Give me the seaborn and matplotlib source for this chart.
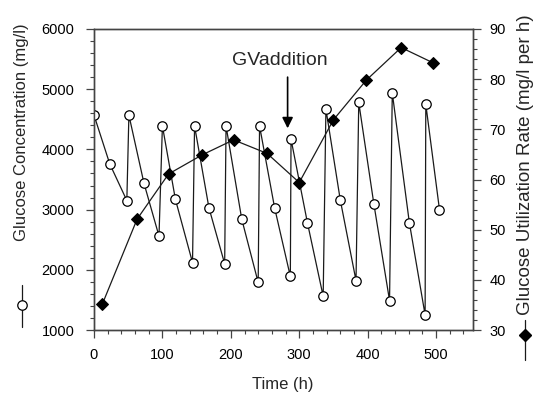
import matplotlib
matplotlib.use("Agg")
import matplotlib.pyplot as plt
from matplotlib.lines import Line2D
from matplotlib.ticker import MultipleLocator
import seaborn as sns
import pandas as pd

# --- data ---
conc_time = [0, 23, 48, 51, 73, 95, 100, 119, 144, 147, 168, 191, 193, 216, 240, 242,
             264, 287, 288, 312, 335, 339, 360, 383, 387, 409, 432, 436, 461, 484, 485, 505]
conc_value = [4570, 3760, 3150, 4570, 3440, 2560, 4390, 3170, 2120, 4390, 3030, 2100,
              4390, 2840, 1790, 4390, 3030, 1890, 4170, 2780, 1560, 4670, 3160, 1820,
              4780, 3100, 1490, 4940, 2780, 1250, 4750, 3000]
rate_time = [12, 63, 109, 158, 204, 253, 300, 350, 398, 449, 495]
rate_value = [35.1, 52.1, 61.1, 64.9, 67.9, 65.2, 59.4, 71.9, 79.8, 86.3, 83.3]

annot_text = "GVaddition"
annot_x = 283
annot_tip = 4350
annot_tail = 5200

left_label = "Glucose Concentration (mg/l)"
right_label = "Glucose Utilization Rate (mg/l per h)"
x_label = "Time (h)"

conc_df = pd.DataFrame({"t": conc_time, "c": conc_value})
rate_df = pd.DataFrame({"t": rate_time, "r": rate_value})

sns.set_theme(style="ticks")
plt.rcParams["font.family"] = ["Liberation Sans", "DejaVu Sans"]

W, H = 541, 394
fig = plt.figure(figsize=(W / 100, H / 100), dpi=100)
fig.patch.set_facecolor("white")
ax = fig.add_axes([94 / W, 1 - 330 / H, (473 - 94) / W, (330 - 29) / H])
ax.set_facecolor("white")
ax2 = ax.twinx()

line_col = "#1a1a1a"
circ_ms = 6.8
diam_ms = 6.6
sns.lineplot(data=conc_df, x="t", y="c", ax=ax, sort=False, estimator=None,
             color=line_col, lw=0.9, marker="o", markersize=circ_ms,
             markerfacecolor="white", markeredgecolor="black", markeredgewidth=0.9,
             zorder=3)
sns.lineplot(data=rate_df, x="t", y="r", ax=ax2, sort=False, estimator=None,
             color=line_col, lw=0.9, marker="D", markersize=diam_ms,
             markerfacecolor="black", markeredgecolor="black", zorder=3)

ax.set_xlim(0, 554)
ax.set_ylim(1000, 6000)
ax2.set_ylim(30, 90)
ax.set_xticks(range(0, 501, 100))
ax.set_yticks(range(1000, 6001, 1000))
ax2.set_yticks(range(30, 91, 10))
ax.xaxis.set_minor_locator(MultipleLocator(20))
ax.yaxis.set_minor_locator(MultipleLocator(200))
ax2.yaxis.set_minor_locator(MultipleLocator(2))

ax.set_xlabel("")
ax.set_ylabel("")
ax2.set_ylabel("")
ax2.set_xlabel("")

spine_col = "#444444"
for a in (ax, ax2):
    for s in a.spines.values():
        s.set_color(spine_col)
        s.set_linewidth(1.0)
        s.set_visible(True)
ax.tick_params(axis="both", which="major", direction="out", length=6, width=0.9,
               color=spine_col, labelsize=10.5, pad=7, labelcolor="black")
ax.tick_params(axis="both", which="minor", direction="out", length=3, width=0.8,
               color=spine_col)
ax.tick_params(axis="y", pad=8)
ax2.tick_params(axis="y", which="major", direction="out", length=6, width=0.9,
                color=spine_col, labelsize=10.5, pad=6, labelcolor="black")
ax2.tick_params(axis="y", which="minor", direction="out", length=3, width=0.8,
                color=spine_col)

# annotation
ax.annotate("", xy=(annot_x, annot_tip), xytext=(annot_x, annot_tail),
            arrowprops=dict(arrowstyle="-|>", color="black", lw=1.2,
                            mutation_scale=16, shrinkA=0, shrinkB=0))
ax.text(annot_x - 11, 5480, annot_text, ha="center", va="center", fontsize=14)

# axis labels
fig.text(283 / W, 1 - 384 / H, x_label, ha="center", va="center", fontsize=12)
fig.text(22 / W, 1 - 132 / H, left_label, ha="center", va="center",
         rotation=90, fontsize=12)
fig.text(525 / W, 1 - 165 / H, right_label, ha="center", va="center",
         rotation=90, fontsize=13.5)

# legend keys next to the axis labels
fig.add_artist(Line2D([22 / W, 22 / W], [1 - 285 / H, 1 - 327 / H],
                      transform=fig.transFigure, color=line_col, lw=0.9))
fig.add_artist(Line2D([22 / W], [1 - 305 / H], transform=fig.transFigure,
                      marker="o", markersize=circ_ms, markerfacecolor="white",
                      markeredgecolor="black", markeredgewidth=0.9, lw=0))
fig.add_artist(Line2D([525 / W, 525 / W], [1 - 320 / H, 1 - 360 / H],
                      transform=fig.transFigure, color=line_col, lw=0.9))
fig.add_artist(Line2D([525 / W], [1 - 335 / H], transform=fig.transFigure,
                      marker="D", markersize=diam_ms, markerfacecolor="black",
                      markeredgecolor="black", lw=0))

fig.savefig("out.png", dpi=100, facecolor="white")
